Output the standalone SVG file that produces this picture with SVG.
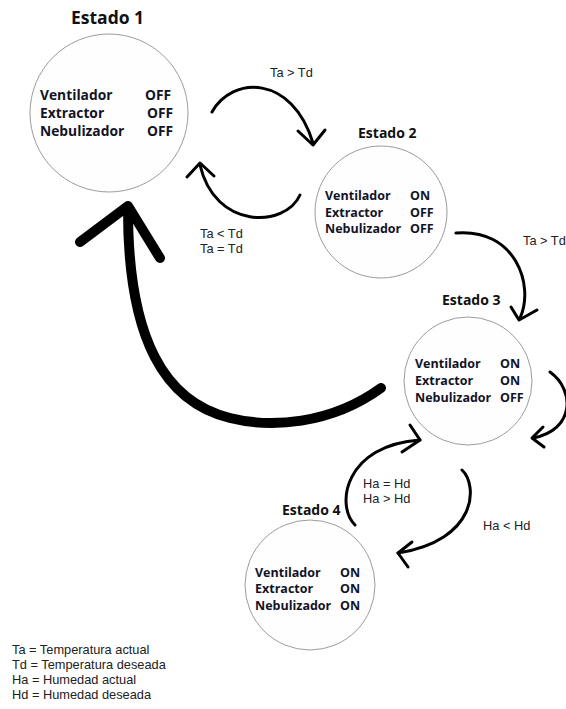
<svg xmlns="http://www.w3.org/2000/svg" width="566" height="709" viewBox="0 0 566 709">
<style>
.state{fill:#fefefe;stroke:#9c9c9c;stroke-width:1}
.title{font-family:"Open Sans","DejaVu Sans",sans-serif;font-weight:bold;font-size:14px;fill:#111}
.b{font-family:"Open Sans","DejaVu Sans",sans-serif;font-weight:bold;font-size:12.5px;fill:#121426}
.b1{font-family:"Open Sans","DejaVu Sans",sans-serif;font-weight:bold;font-size:13.8px;fill:#121426}
.lbl{font-family:"Liberation Sans","Arial",sans-serif;font-size:12.8px;fill:#222}
.arc{fill:none;stroke:#000;stroke-width:3;stroke-linecap:round;stroke-linejoin:round}
.big{fill:none;stroke:#000;stroke-width:10;stroke-linecap:round;stroke-linejoin:round}
</style>
<rect width="566" height="709" fill="#fff"/>
<g id="estado1">
<circle class="state" cx="109" cy="113" r="79"/>
<text class="title" x="71" y="24" style="font-size:17.5px">Estado 1</text>
<text class="b1" x="40" y="100">Ventilador</text><text class="b1" x="145" y="100">OFF</text>
<text class="b1" x="40" y="118">Extractor</text><text class="b1" x="147" y="118">OFF</text>
<text class="b1" x="40" y="136">Nebulizador</text><text class="b1" x="147" y="136">OFF</text>
</g>
<g id="estado2">
<circle class="state" cx="381" cy="212" r="66"/>
<text class="title" x="358" y="138">Estado 2</text>
<text class="b" x="325" y="200">Ventilador</text><text class="b" x="410" y="200">ON</text>
<text class="b" x="325" y="217">Extractor</text><text class="b" x="410" y="217">OFF</text>
<text class="b" x="325" y="233">Nebulizador</text><text class="b" x="410" y="233">OFF</text>
</g>
<g id="estado3">
<circle class="state" cx="468" cy="381" r="64"/>
<text class="title" x="442" y="305">Estado 3</text>
<text class="b" x="415" y="368">Ventilador</text><text class="b" x="500" y="368">ON</text>
<text class="b" x="415" y="385">Extractor</text><text class="b" x="500" y="385">ON</text>
<text class="b" x="415" y="402">Nebulizador</text><text class="b" x="500" y="402">OFF</text>
</g>
<g id="estado4">
<circle class="state" cx="310" cy="585" r="65"/>
<text class="title" x="282" y="515">Estado 4</text>
<text class="b" x="255" y="577">Ventilador</text><text class="b" x="340" y="577">ON</text>
<text class="b" x="255" y="593">Extractor</text><text class="b" x="340" y="593">ON</text>
<text class="b" x="255" y="610">Nebulizador</text><text class="b" x="340" y="610">ON</text>
</g>
<g id="connectors">
<path class="arc" d="M212,112 C232,76 292,74 313,143"/>
<path class="arc" d="M298,131 L313,145 L325,130"/>
<path class="arc" d="M300,195 C285,228 215,230 200,165"/>
<path class="arc" d="M187,177 L200,163 L214,176"/>
<path class="arc" d="M456,233 C515,228 535,285 520,318"/>
<path class="arc" d="M511,307 L519,320 L537,310"/>
<path class="arc" d="M550,372 C575,390 575,430 533,438"/>
<path class="arc" d="M543,427 L532,438 L544,447"/>
<path class="arc" d="M355,525 C335,505 345,445 420,440"/>
<path class="arc" d="M410,425 L420,440 L402,452"/>
<path class="arc" d="M462,470 C478,485 478,540 398,553"/>
<path class="arc" d="M412,542 L398,553 L408,567"/>
<path class="big" d="M381,388 C330,425 270,428 230,418 C165,402 128,340 128,210"/>
<path class="big" d="M80,242 L128,206 L160,258"/>
</g>
<g id="labels">
<text class="lbl" x="270" y="77">Ta &gt; Td</text>
<text class="lbl" x="200" y="238">Ta &lt; Td</text>
<text class="lbl" x="200" y="253">Ta = Td</text>
<text class="lbl" x="523" y="245">Ta &gt; Td</text>
<text class="lbl" x="363" y="488">Ha = Hd</text>
<text class="lbl" x="363" y="503">Ha &gt; Hd</text>
<text class="lbl" x="483" y="530">Ha &lt; Hd</text>
</g>
<g id="legend">
<text class="lbl" x="12" y="654">Ta = Temperatura actual</text>
<text class="lbl" x="12" y="669">Td = Temperatura deseada</text>
<text class="lbl" x="12" y="684">Ha = Humedad actual</text>
<text class="lbl" x="12" y="699">Hd = Humedad deseada</text>
</g>
</svg>
